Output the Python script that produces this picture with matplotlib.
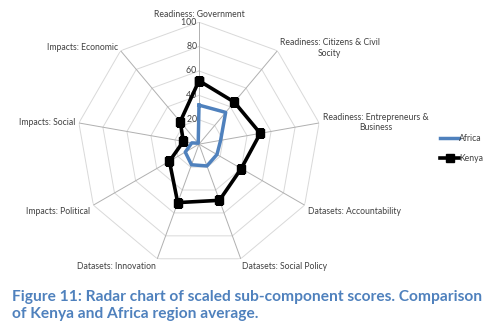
import numpy as np
import matplotlib
matplotlib.use("Agg")
import matplotlib.pyplot as plt

# axes labels, clockwise from top
categories = [
    "Readiness: Government",
    "Readiness: Citizens & Civil\nSocity",
    "Readiness: Entrepreneurs &\nBusiness",
    "Datasets: Accountability",
    "Datasets: Social Policy",
    "Datasets: Innovation",
    "Impacts: Political",
    "Impacts: Social",
    "Impacts: Economic",
]
africa = [32, 34, 18, 17, 19, 18, 13, 6, 1]
kenya = [52, 45, 51, 40, 49, 51, 28, 13, 24]
rings = [20, 40, 60, 80, 100]

plt.rcParams["font.family"] = ["Lato", "DejaVu Sans"]

fig = plt.figure(figsize=(5, 3.31), dpi=100)
ax = fig.add_axes([0.154, 0.196, 0.488, 0.737], projection="polar")
ax.set_theta_offset(np.pi / 2)
ax.set_theta_direction(-1)
ax.set_ylim(0, 100)
ax.axis("off")

n = len(categories)
angles = np.linspace(0, 2 * np.pi, n, endpoint=False)
closed = np.append(angles, angles[0])

# polygon grid
for r in rings:
    ax.plot(closed, [r] * (n + 1), color="#d9d9d9", lw=0.7, zorder=1)
for a in angles:
    ax.plot([a, a], [0, 100], color="#b0b0b0", lw=0.7, zorder=1)

# tick labels along first axis
for r in rings:
    ax.text(0, r, str(r) + " ", ha="right", va="center", fontsize=6.3,
            color="#404040", zorder=2)

ax.plot(closed, africa + africa[:1], color="#4f81bd", lw=2.5,
        label="Africa", zorder=3)
ax.plot(closed, kenya + kenya[:1], color="black", lw=2.6, marker="s",
        markersize=5.5, label="Kenya", zorder=4)

# category labels
align = [
    ("center", "bottom"),
    ("left", "center"),
    ("left", "center"),
    ("left", "top"),
    ("left", "top"),
    ("right", "top"),
    ("right", "top"),
    ("right", "center"),
    ("right", "center"),
]
for a, lab, (ha, va) in zip(angles, categories, align):
    ax.text(a, 103, lab, ha=ha, va=va, fontsize=6.2, color="#404040",
            multialignment="center")

fig.legend(loc="upper left", bbox_to_anchor=(0.865, 0.62), frameon=False,
           fontsize=6.2, handlelength=2.2, handletextpad=0.0, labelspacing=1.3,
           labelcolor="#404040")

fig.text(0.024, 0.125,
         "Figure 11: Radar chart of scaled sub-component scores. Comparison\n"
         "of Kenya and Africa region average.",
         ha="left", va="top", fontsize=11.2, fontweight="bold",
         color="#4f81bd", linespacing=1.3)

fig.savefig("out.png", dpi=100)
